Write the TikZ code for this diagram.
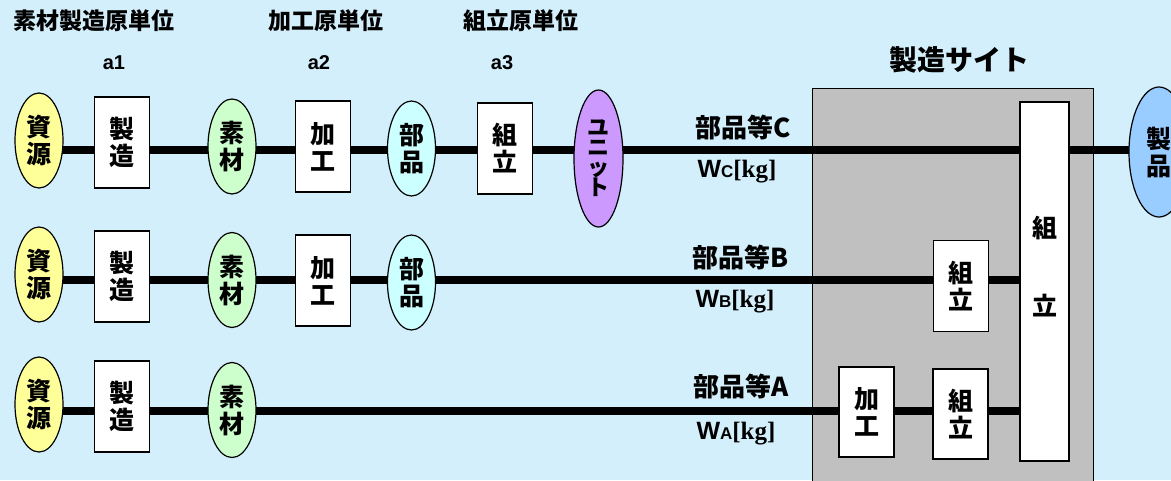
\documentclass[tikz,border=0pt]{standalone}
\usepackage{fontspec}
\newfontfamily\jp{Noto Sans CJK JP}
\newfontfamily\lsans{Liberation Sans}
\newfontfamily\lserif{Liberation Serif}
\usetikzlibrary{shapes.geometric,backgrounds}
\definecolor{bgc}{HTML}{D3EFFB}
\definecolor{cyel}{HTML}{FFFF99}
\definecolor{cgrn}{HTML}{CCFFCC}
\definecolor{ccyn}{HTML}{CCFFFF}
\definecolor{cpur}{HTML}{CC99FF}
\definecolor{cblu}{HTML}{99CCFF}
\definecolor{cgry}{HTML}{C0C0C0}
\tikzset{
  jpt/.style={font=\jp\bfseries\fontsize{25}{27}\selectfont, align=center, inner sep=0pt},
  boxn/.style={jpt, rectangle, draw=black, line width=1.2pt, fill=white, minimum width=55pt, minimum height=91pt},
  elln/.style={jpt, ellipse, draw=black, line width=1.2pt, minimum width=48pt, minimum height=95pt},
  flow/.style={line width=8pt, draw=black},
  lab/.style={font=\jp\bfseries\fontsize{26}{28}\selectfont, inner sep=0pt},
  ttl/.style={font=\jp\bfseries\fontsize{23}{25}\selectfont, inner sep=0pt},
  anum/.style={font=\lsans\bfseries\fontsize{20}{22}\selectfont, inner sep=0pt},
  wlab/.style={inner sep=0pt}
}
\newcommand{\wkg}[1]{{\lsans\bfseries\fontsize{25}{27}\selectfont W{\fontsize{17}{18}\selectfont #1}}{\lserif\bfseries\fontsize{25}{27}\selectfont[kg]}}
\begin{document}
\begin{tikzpicture}[x=1pt,y=-1pt]
\useasboundingbox (0,0) rectangle (1171,480);
\begin{pgfonlayer}{background}
\fill[bgc] (0,0) rectangle (1171,480);
\fill[cgry] (812,88) rectangle (1093,482);
\draw[line width=1pt] (812,482) -- (812,88) -- (1093,88) -- (1093,482);
\end{pgfonlayer}
% titles
\node[ttl] (t1) at (94,21) {素材製造原単位};
\node[ttl] (t2) at (326,21) {加工原単位};
\node[ttl] (t3) at (521,21) {組立原単位};
\node[anum] (a1) at (114,63) {a1};
\node[anum] (a2) at (319,63) {a2};
\node[anum] (a3) at (502,63) {a3};
\node[font=\jp\bfseries\fontsize{28}{30}\selectfont, inner sep=0pt] (site) at (959,60) {製造サイト};
% row 1
\node[elln, fill=cyel] (r1) at (39,140.5) {資\\源};
\node[boxn] (m1) at (122,142.5) {製\\造};
\node[elln, fill=cgrn] (s1) at (232,146.5) {素\\材};
\node[boxn] (k1) at (323,146.5) {加\\工};
\node[elln, fill=ccyn] (b1) at (411.5,148.5) {部\\品};
\node[boxn] (u1) at (505,148.5) {組\\立};
\node[elln, fill=cpur, minimum width=49pt, minimum height=137pt, font=\jp\bfseries\fontsize{22}{20}\selectfont] (un) at (598.5,158.5) {ユ\\ニ\\ッ\\ト};
% row 2
\node[elln, fill=cyel] (r2) at (39,274.5) {資\\源};
\node[boxn] (m2) at (122,276.5) {製\\造};
\node[elln, fill=cgrn] (s2) at (232,280) {素\\材};
\node[boxn] (k2) at (323,280.5) {加\\工};
\node[elln, fill=ccyn] (b2) at (411.5,282.5) {部\\品};
\node[boxn] (u2) at (961,286) {組\\立};
% row 3
\node[elln, fill=cyel] (r3) at (39,404.5) {資\\源};
\node[boxn] (m3) at (122,406.5) {製\\造};
\node[elln, fill=cgrn] (s3) at (232,410) {素\\材};
\node[boxn, minimum height=90pt] (k3) at (866.5,412) {加\\工};
\node[boxn, minimum height=90pt] (u3) at (960.5,414) {組\\立};
% final assembly and product
\node[boxn, minimum width=49pt, minimum height=359pt] (fa) at (1044.5,281.5) {};
\node[jpt] (fa1) at (1044.5,228) {組};
\node[jpt] (fa2) at (1044.5,306) {立};
\node[elln, fill=cblu, minimum width=60pt, minimum height=130pt] (pr) at (1159,152) {製\\品};
% labels
\node[lab] (lc) at (743,127) {部品等C};
\node[wlab] (wc) at (737,172) {\wkg{C}};
\node[lab] (lb) at (741,257) {部品等B};
\node[wlab] (wb) at (735,302) {\wkg{B}};
\node[lab] (la) at (741,386) {部品等A};
\node[wlab] (wa) at (736,434) {\wkg{A}};
% flows
\coordinate (y1) at (0,150);
\coordinate (y2) at (0,280);
\coordinate (y3) at (0,411);
\begin{pgfonlayer}{background}
\foreach \a/\b in {r1/m1,m1/s1,s1/k1,k1/b1,b1/u1,u1/un,un/fa,fa/pr}
  \draw[flow] (\a.center |- y1) -- (\b.center |- y1);
\foreach \a/\b in {r2/m2,m2/s2,s2/k2,k2/b2,b2/u2,u2/fa}
  \draw[flow] (\a.center |- y2) -- (\b.center |- y2);
\foreach \a/\b in {r3/m3,m3/s3,s3/k3,k3/u3,u3/fa}
  \draw[flow] (\a.center |- y3) -- (\b.center |- y3);
\end{pgfonlayer}
\end{tikzpicture}
\end{document}
